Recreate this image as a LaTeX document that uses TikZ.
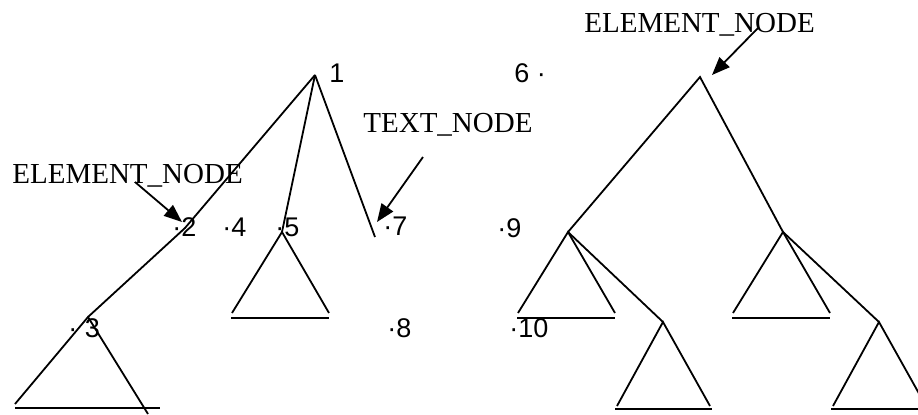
\documentclass[tikz,border=0pt]{standalone}
\usepackage{fontspec}
\setmainfont{Liberation Serif}
\newfontfamily\numfont{Liberation Sans}
\usetikzlibrary{arrows.meta}
\begin{document}
\begin{tikzpicture}[x=0.5pt,y=-0.5pt,
  edge/.style={draw=black,line width=0.9pt},
  pointer/.style={-{Triangle[length=9pt,width=7pt]},line width=0.9pt},
  numlabel/.style={anchor=base west,inner sep=0pt,font=\numfont\fontsize{13.5}{13.5}\selectfont},
  typelabel/.style={anchor=base west,inner sep=0pt,font=\fontsize{14.5}{14.5}\selectfont}]
  \useasboundingbox (0,0) rectangle (918,414);
  % left tree
  \coordinate (root1) at (315,75);
  \coordinate (bend2) at (185,228);
  \coordinate (top3) at (88,317);
  \coordinate (top5) at (282,232);
  \coordinate (end7) at (375,237);
  \draw[edge] (root1) -- (bend2) -- (top3);
  \draw[edge] (root1) -- (top5);
  \draw[edge] (root1) -- (end7);
  \draw[edge] (15,404) -- (top3) -- (148,414);
  \draw[edge] (15,408) -- (160,408);
  % right tree
  \coordinate (root6) at (700,77);
  \coordinate (topA) at (568,232);
  \coordinate (topB) at (783,232);
  \coordinate (topC) at (663,322);
  \coordinate (topD) at (879,322);
  \draw[edge] (topA) -- (root6) -- (topB);
  \draw[edge] (topA) -- (topC);
  \draw[edge] (topB) -- (topD);
  \foreach \apex in {top5,topA,topB}{
    \draw[edge] (\apex) ++(-50,81) -- (\apex) -- ++(47,81);
    \draw[edge] (\apex) ++(-51,86) -- ++(98,0);
  }
  \foreach \apex in {topC,topD}{
    \draw[edge] (\apex) ++(-46,84) -- (\apex) -- ++(47,84);
    \draw[edge] (\apex) ++(-48,87) -- ++(97,0);
  }
  % labels
  \node[numlabel] (n1) at (329,82) {1};
  \node[numlabel] (n2) at (172,236) {·2};
  \node[numlabel] (n3) at (68,337) {· 3};
  \node[numlabel] (n4) at (222,236) {·4};
  \node[numlabel] (n5) at (275,236) {·5};
  \node[numlabel] (n6) at (514,82) {6 ·};
  \node[numlabel] (n7) at (383,235) {·7};
  \node[numlabel] (n8) at (387,337) {·8};
  \node[numlabel] (n9) at (497,237) {·9};
  \node[numlabel] (n10) at (509,337) {·10};
  \node[typelabel] (elemL) at (12,183) {ELEMENT\_NODE};
  \node[typelabel] (textT) at (363,132) {TEXT\_NODE};
  \node[typelabel] (elemR) at (584,32) {ELEMENT\_NODE};
  \coordinate (fromL) at (135,182);
  \coordinate (toL) at (182,222);
  \coordinate (fromT) at (423,157);
  \coordinate (toT) at (377,222);
  \coordinate (fromR) at (758,28);
  \coordinate (toR) at (712,75);
  \draw[pointer] (fromL) -- (toL);
  \draw[pointer] (fromT) -- (toT);
  \draw[pointer] (fromR) -- (toR);
\end{tikzpicture}
\end{document}
